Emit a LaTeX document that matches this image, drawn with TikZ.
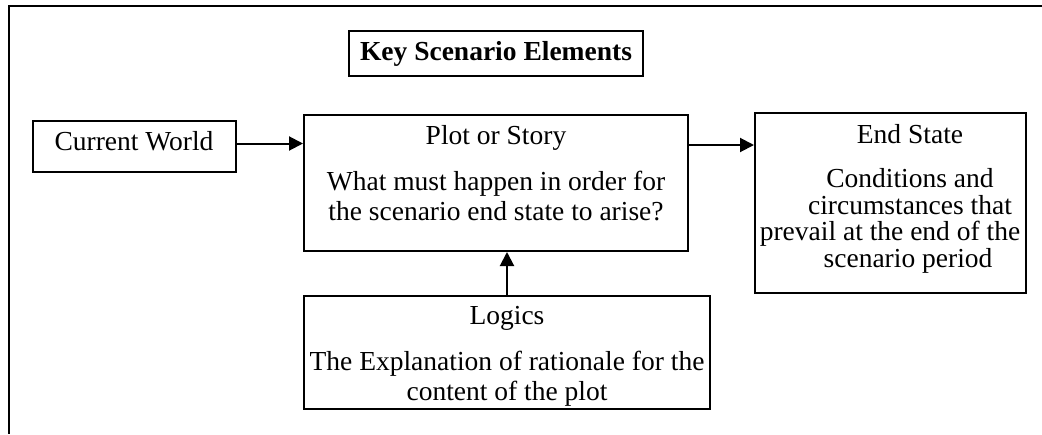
\documentclass[tikz,border=0pt]{standalone}
\usepackage{fontspec}
\setmainfont{Liberation Serif}
\usetikzlibrary{arrows.meta}
\newcommand\bodyfont{\fontsize{27.5}{30}\selectfont}
\begin{document}
\begin{tikzpicture}[x=1pt,y=-1pt,
  box/.style={draw,line width=2pt,inner sep=0pt},
  txt/.style={anchor=base,inner sep=0pt,font=\bodyfont},
  ttl/.style={anchor=base,inner sep=0pt,font=\bodyfont\bfseries},
  arr/.style={line width=2pt,-{Triangle[length=14pt,width=14pt]}}]
\useasboundingbox (0,0) rectangle (1042,434);

% outer frame (open at right and bottom)
\draw[line width=2pt] (1042,6) -- (9,6) -- (9,434);

% boxes
\node[box,minimum width=294pt,minimum height=45pt]  (title)  at (496,53.5)  {};
\node[box,minimum width=203pt,minimum height=51pt]  (cw)     at (134.5,146.5) {};
\node[box,minimum width=384pt,minimum height=136pt] (plot)   at (496,183)   {};
\node[box,minimum width=271pt,minimum height=180pt] (end)    at (890.5,203) {};
\node[box,minimum width=406pt,minimum height=113pt] (logics) at (507,352.5) {};

% texts
\node[ttl] (t0) at (496,60) {Key Scenario Elements};
\node[txt] (t1) at (134,150) {Current World};

\node[txt] (p0) at (496,144) {Plot or Story};
\node[txt] (p1) at (496,190) {What must happen in order for};
\node[txt] (p2) at (496,220) {the scenario end state to arise?};

\node[txt] (e0) at (910,143) {End State};
\node[txt] (e1) at (910,187) {Conditions and};
\node[txt] (e2) at (910,214) {circumstances that};
\node[txt] (e3) at (890,240) {prevail at the end of the};
\node[txt] (e4) at (908,267) {scenario period};

\node[txt] (l0) at (507,324) {Logics};
\node[txt] (l1) at (507,370) {The Explanation of rationale for the};
\node[txt] (l2) at (507,400) {content of the plot};

% connectors
\coordinate (a1) at ([yshift=3pt]cw.east);
\draw[arr] (a1) -- (a1 -| plot.west);
\coordinate (a2) at ([yshift=38pt]plot.east);
\draw[arr] (a2) -- (a2 -| end.west);
\draw[arr] (logics.north) -- (logics.north |- plot.south);
\end{tikzpicture}
\end{document}
